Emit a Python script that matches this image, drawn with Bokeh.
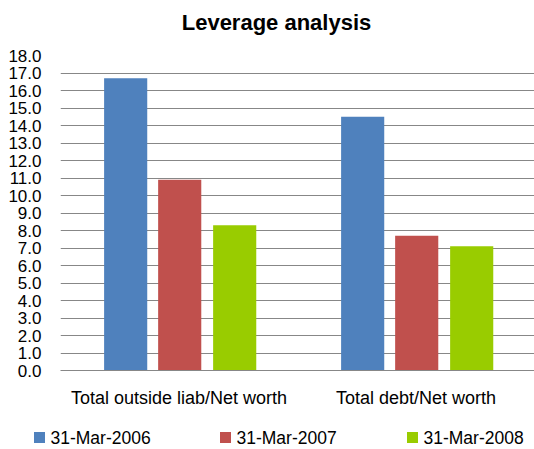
from bokeh.plotting import figure
from bokeh.models import FactorRange, FixedTicker, NumeralTickFormatter, ColumnDataSource, Range1d
from bokeh.layouts import column, row
from bokeh.transform import dodge
from bokeh.core.properties import value
from bokeh.embed import file_html
from bokeh.resources import INLINE

title_text = "Leverage analysis"
categories = ["Total outside liab/Net worth", "Total debt/Net worth"]
series_names = ["31-Mar-2006", "31-Mar-2007", "31-Mar-2008"]
values_2006 = [16.7, 14.5]
values_2007 = [10.9, 7.7]
values_2008 = [8.3, 7.1]
y_ticks = [0, 1, 2, 3, 4, 5, 6, 7, 8, 9, 10, 11, 12, 13, 14, 15, 16, 17, 18]

colors = ["#4F81BD", "#C0504D", "#99CC00"]
FONT = "Liberation Sans"
W = 534


def strip(height):
    f = figure(width=W, height=height, output_backend="svg", toolbar_location=None,
               x_axis_type=None, y_axis_type=None, min_border=0,
               x_range=Range1d(0, W), y_range=Range1d(0, height))
    f.outline_line_color = None
    f.xgrid.grid_line_color = None
    f.ygrid.grid_line_color = None
    return f


# title strip
pt = strip(45)
pt.text(x=[276], y=[23], text=[title_text], text_font=value(FONT), text_font_size="22px",
        text_font_style="bold", text_align="center", text_baseline="middle", text_color="black")

# main chart
source = ColumnDataSource(dict(cat=categories, s2006=values_2006, s2007=values_2007, s2008=values_2008))

p = figure(x_range=FactorRange(*categories), y_range=(0, 18),
           width=W, height=365, output_backend="svg", toolbar_location=None,
           min_border_left=60, min_border_right=0, min_border_top=10, min_border_bottom=39)

offsets = [-0.225, 0.003, 0.235]
cols = ["s2006", "s2007", "s2008"]
for col, off, c in zip(cols, offsets, colors):
    p.vbar(x=dodge("cat", off, range=p.x_range), top=col, width=0.182, source=source,
           fill_color=c, line_color=None)

p.outline_line_color = None
p.background_fill_color = "white"

p.xgrid.grid_line_color = None
p.ygrid.grid_line_color = "#878787"
p.ygrid.grid_line_width = 1
p.yaxis.ticker = FixedTicker(ticks=y_ticks)
p.yaxis.formatter = NumeralTickFormatter(format="0.0")
p.yaxis.axis_line_color = None
p.yaxis.major_tick_line_color = None
p.yaxis.minor_tick_line_color = None
p.yaxis.major_label_text_font = FONT
p.yaxis.major_label_text_font_size = "17px"
p.yaxis.major_label_text_color = "black"
p.yaxis.major_label_standoff = 13

p.xaxis.axis_line_color = "#878787"
p.xaxis.major_tick_line_color = None
p.xaxis.minor_tick_line_color = None
p.xaxis.major_label_text_font = FONT
p.xaxis.major_label_text_font_size = "18px"
p.xaxis.major_label_text_color = "black"
p.xaxis.major_label_standoff = 11

# legend strip
pl = strip(39)
leg_x = [39, 225, 412]
leg_src = ColumnDataSource(dict(x=leg_x, tx=[x + 11 for x in leg_x], y=[12] * 3,
                                color=colors, name=series_names))
pl.scatter(x="x", y="y", source=leg_src, marker="square", size=11, fill_color="color", line_color=None)
pl.text(x="tx", y="y", text="name", source=leg_src, text_font=value(FONT), text_font_size="17.5px",
        text_align="left", text_baseline="middle", text_color="black")

layout = column(pt, row(p, spacing=0), pl, spacing=0)
open("out.html", "w").write(file_html(layout, INLINE))
